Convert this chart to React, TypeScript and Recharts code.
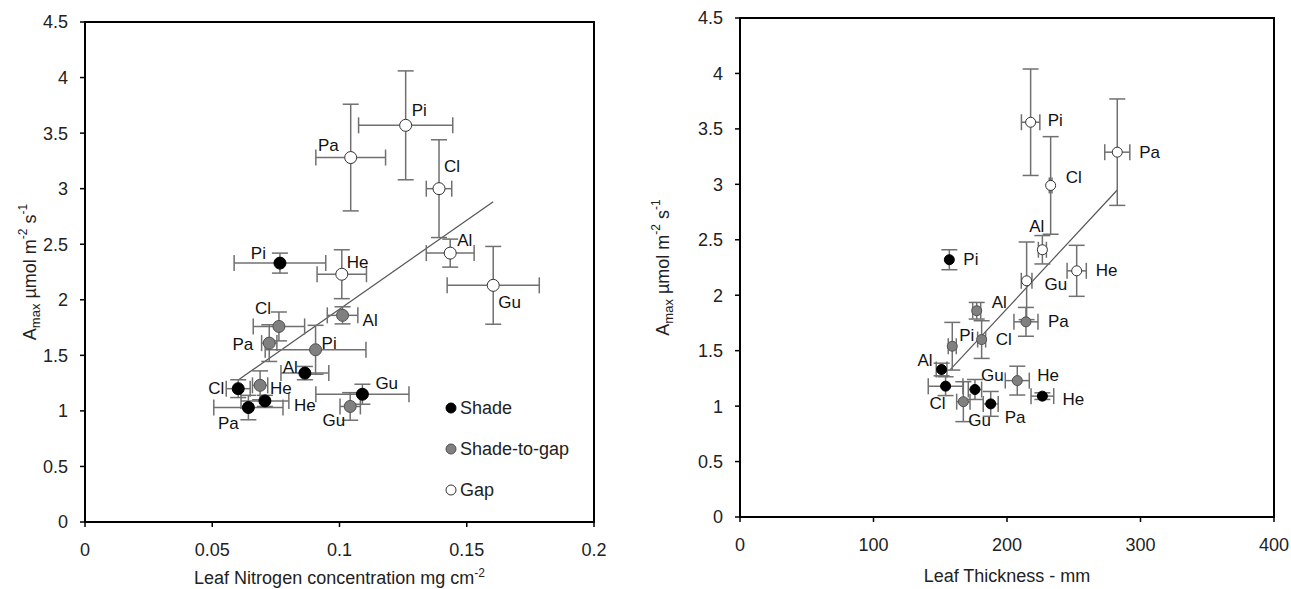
import {
  ScatterChart,
  Scatter,
  XAxis,
  YAxis,
  ErrorBar,
  ReferenceLine,
  ReferenceArea,
  Legend,
  Label,
} from "recharts";

// species order used by every series
const species = ["Pi", "Cl", "Al", "He", "Pa", "Gu"];

// left panel: leaf nitrogen (mg cm-2) vs Amax
const nShadeX = [0.0766, 0.0602, 0.0864, 0.0707, 0.0642, 0.109];
const nShadeY = [2.33, 1.2, 1.34, 1.09, 1.03, 1.15];
const nShadeXErr = [0.018, 0.0047, 0.0094, 0.0094, 0.0136, 0.0183];
const nShadeYErr = [0.09, 0.08, 0.06, 0.05, 0.11, 0.09];

const nMidX = [0.0906, 0.0762, 0.1012, 0.0688, 0.0724, 0.1042];
const nMidY = [1.55, 1.76, 1.86, 1.23, 1.61, 1.04];
const nMidXErr = [0.0198, 0.0101, 0.006, 0.003, 0.003, 0.004];
const nMidYErr = [0.22, 0.13, 0.077, 0.13, 0.165, 0.124];

const nGapX = [0.126, 0.1391, 0.1435, 0.1009, 0.1044, 0.1604];
const nGapY = [3.57, 3.0, 2.42, 2.23, 3.28, 2.13];
const nGapXErr = [0.0185, 0.005, 0.0094, 0.0097, 0.0137, 0.0181];
const nGapYErr = [0.49, 0.44, 0.126, 0.22, 0.48, 0.35];

const nFitX = [0.0602, 0.1604];
const nFitY = [1.278, 2.883];

// right panel: leaf thickness vs Amax
const tShadeX = [156.8, 154, 151, 226.5, 187.8, 176];
const tShadeY = [2.32, 1.18, 1.33, 1.09, 1.02, 1.15];
const tShadeXErr = [0, 13, 4, 8.5, 5.6, 5];
const tShadeYErr = [0.09, 0.085, 0.057, 0.03, 0.112, 0.09];

const tMidX = [159, 181, 177.3, 207.7, 214.2, 167.3];
const tMidY = [1.54, 1.6, 1.86, 1.23, 1.76, 1.04];
const tMidXErr = [3, 3, 3, 9, 9, 5];
const tMidYErr = [0.215, 0.17, 0.075, 0.13, 0.13, 0.18];

const tGapX = [217.7, 232.7, 226.5, 252.2, 282.6, 214.7];
const tGapY = [3.56, 2.99, 2.41, 2.22, 3.29, 2.13];
const tGapXErr = [6.9, 1, 3, 7.2, 9.4, 4];
const tGapYErr = [0.48, 0.44, 0.128, 0.23, 0.48, 0.35];

const tFitX = [157.3, 282.6];
const tFitY = [1.326, 2.949];

const nTicks = [0, 0.05, 0.1, 0.15, 0.2];
const tTicks = [0, 100, 200, 300, 400];
const yTicks = [0, 0.5, 1, 1.5, 2, 2.5, 3, 3.5, 4, 4.5];

const groupNames = ["Shade", "Shade-to-gap", "Gap"];

const rows = (xs: number[], ys: number[], exs: number[], eys: number[]) =>
  species.map((sp, i) => ({ sp, x: xs[i], y: ys[i], ex: exs[i], ey: eys[i] }));

// where each species label sits around its dot: [dx, dy, anchor]
type Spot = [number, number, string];
const nSpots: Record<string, Record<string, Spot>> = {
  Shade: { Pi: [-14, -10, "end"], Cl: [-14, 0, "end"], Al: [-7, -6, "end"], He: [29, 5, "start"], Pa: [-20, 16, "middle"], Gu: [13, -11, "start"] },
  "Shade-to-gap": { Pi: [6, -6, "start"], Cl: [-16, -18, "middle"], Al: [20, 5, "start"], He: [10, 3, "start"], Pa: [-16, 1, "end"], Gu: [-5, 14, "end"] },
  Gap: { Pi: [6, -15, "start"], Cl: [5, -22, "start"], Al: [7, -13, "start"], He: [5, -12, "start"], Pa: [-12, -12, "end"], Gu: [5, 17, "start"] },
};
const tSpots: Record<string, Record<string, Spot>> = {
  Shade: { Pi: [14, 0, "start"], Cl: [0, 17, "end"], Al: [-9, -9, "end"], He: [20, 3, "start"], Pa: [14, 14, "start"], Gu: [6, -14, "start"] },
  "Shade-to-gap": { Pi: [7, -11, "start"], Cl: [14, 0, "start"], Al: [15, -8, "start"], He: [20, -5, "start"], Pa: [22, 0, "start"], Gu: [5, 19, "start"] },
  Gap: { Pi: [17, -2, "start"], Cl: [15, -8, "start"], Al: [2, -23, "end"], He: [19, 0, "start"], Pa: [22, 0, "start"], Gu: [18, 4, "start"] },
};

const dotStyle: Record<string, { fill: string; stroke: string }> = {
  Shade: { fill: "#000", stroke: "#000" },
  "Shade-to-gap": { fill: "#808080", stroke: "#505050" },
  Gap: { fill: "#fff", stroke: "#333" },
};

const FONT = "'Liberation Sans', Arial, sans-serif";
const barColor = "#707070";

function makeDot(group: string, spots: Record<string, Record<string, Spot>>, r: number) {
  return (props: any) => {
    const { cx, cy, payload } = props;
    const st = dotStyle[group];
    const s = spots[group][payload.sp] || [8, 0, "start"];
    return (
      <g>
        <circle cx={cx} cy={cy} r={r} fill={st.fill} stroke={st.stroke} strokeWidth={1} />
        <text
          x={cx + s[0]}
          y={cy + s[1]}
          textAnchor={s[2] as any}
          dominantBaseline="central"
          fontSize={17}
          fontFamily={FONT}
          fill="#111"
        >
          {payload.sp}
        </text>
      </g>
    );
  };
}

function YTitle(props: any) {
  const { viewBox, cx } = props;
  const cy = viewBox.y + viewBox.height / 2;
  return (
    <text
      x={cx}
      y={cy}
      transform={`rotate(-90, ${cx}, ${cy})`}
      textAnchor="middle"
      dominantBaseline="central"
      fontSize={18}
      fontFamily={FONT}
      fill="#222"
    >
      A<tspan fontSize={13} dy={5}>max</tspan>
      <tspan dy={-5}> µmol m</tspan>
      <tspan fontSize={12} dy={-7}>-2</tspan>
      <tspan dy={7}> s</tspan>
      <tspan fontSize={12} dy={-7}>-1</tspan>
    </text>
  );
}

function XTitle(props: any) {
  const { viewBox, text, sup, down } = props;
  return (
    <text
      x={viewBox.x + viewBox.width / 2}
      y={viewBox.y + down}
      textAnchor="middle"
      fontSize={18}
      fontFamily={FONT}
      fill="#222"
    >
      {text}
      {sup ? <tspan fontSize={12} dy={-7}>{sup}</tspan> : null}
    </text>
  );
}

function LegendBox() {
  const ys = [14, 55, 96];
  return (
    <svg width={170} height={112}>
      {groupNames.map((g, i) => (
        <g key={g}>
          <circle cx={11} cy={ys[i]} r={5} fill={dotStyle[g].fill} stroke={dotStyle[g].stroke} />
          <text x={20} y={ys[i]} dominantBaseline="central" fontSize={18} fontFamily={FONT} fill="#222">
            {g}
          </text>
        </g>
      ))}
    </svg>
  );
}

const axisLine = { stroke: "#000", strokeWidth: 2 };
const tickStyle = { fill: "#222", fontSize: 18, fontFamily: FONT };

function Panel(props: {
  width: number;
  margin: any;
  yWidth: number;
  xHeight: number;
  xDomain: number[];
  xTicks: number[];
  series: { name: string; data: any[] }[];
  fitX: number[];
  fitY: number[];
  spots: Record<string, Record<string, Spot>>;
  r: number;
  xTitle: string;
  xSup?: string;
  xTitleDown: number;
  yTitleX: number;
  legend?: boolean;
}) {
  const p = props;
  return (
    <ScatterChart width={p.width} height={589} margin={p.margin}>
      <XAxis
        type="number"
        dataKey="x"
        domain={p.xDomain}
        ticks={p.xTicks}
        allowDataOverflow
        height={p.xHeight}
        axisLine={axisLine}
        tickLine={{ stroke: "#000", strokeWidth: 1.5 }}
        tickSize={5}
        tickMargin={16}
        tick={tickStyle}
      >
        <Label content={(lp: any) => <XTitle {...lp} text={p.xTitle} sup={p.xSup} down={p.xTitleDown} />} />
      </XAxis>
      <YAxis
        type="number"
        dataKey="y"
        domain={[0, 4.5]}
        ticks={yTicks}
        allowDataOverflow
        width={p.yWidth}
        axisLine={axisLine}
        tickLine={{ stroke: "#000", strokeWidth: 1.5 }}
        tickSize={5}
        tickMargin={12}
        tick={tickStyle}
      >
        <Label content={(lp: any) => <YTitle {...lp} cx={p.yTitleX} />} />
      </YAxis>
      <ReferenceArea
        x1={p.xDomain[0]}
        x2={p.xDomain[1]}
        y1={0}
        y2={4.5}
        fill="none"
        fillOpacity={0}
        stroke="#000"
        strokeWidth={2}
      />
      <ReferenceLine
        segment={[
          { x: p.fitX[0], y: p.fitY[0] },
          { x: p.fitX[1], y: p.fitY[1] },
        ]}
        stroke="#555"
        strokeWidth={1.2}
      />
      {p.series.map((s) => (
        <Scatter
          key={s.name}
          name={s.name}
          data={s.data}
          fill={dotStyle[s.name].fill}
          shape={makeDot(s.name, p.spots, p.r)}
          isAnimationActive={false}
        >
          <ErrorBar dataKey="ex" direction="x" width={8} stroke={barColor} strokeWidth={1.5} />
          <ErrorBar dataKey="ey" direction="y" width={8} stroke={barColor} strokeWidth={1.5} />
        </Scatter>
      ))}
      {p.legend ? (
        <Legend
          layout="vertical"
          align="center"
          verticalAlign="middle"
          wrapperStyle={{ left: 440, top: 394, width: 170, height: 112 }}
          content={() => <LegendBox />}
        />
      ) : null}
    </ScatterChart>
  );
}

export default function App() {
  const left = [
    { name: "Shade", data: rows(nShadeX, nShadeY, nShadeXErr, nShadeYErr) },
    { name: "Shade-to-gap", data: rows(nMidX, nMidY, nMidXErr, nMidYErr) },
    { name: "Gap", data: rows(nGapX, nGapY, nGapXErr, nGapYErr) },
  ];
  const right = [
    { name: "Shade", data: rows(tShadeX, tShadeY, tShadeXErr, tShadeYErr) },
    { name: "Shade-to-gap", data: rows(tMidX, tMidY, tMidXErr, tMidYErr) },
    { name: "Gap", data: rows(tGapX, tGapY, tGapXErr, tGapYErr) },
  ];
  return (
    <div
      style={{
        position: "absolute",
        left: 0,
        top: 0,
        width: 1291,
        height: 589,
        background: "#fff",
        fontFamily: FONT,
      }}
    >
      <div style={{ position: "absolute", left: 0, top: 0 }}>
        <Panel
          width={620}
          margin={{ top: 22, right: 26, bottom: 0, left: 0 }}
          yWidth={85}
          xHeight={67}
          xDomain={[0, 0.2]}
          xTicks={nTicks}
          series={left}
          fitX={nFitX}
          fitY={nFitY}
          spots={nSpots}
          r={6}
          xTitle="Leaf Nitrogen concentration mg cm"
          xSup="-2"
          xTitleDown={62}
          yTitleX={30}
          legend
        />
      </div>
      <div style={{ position: "absolute", left: 640, top: 0 }}>
        <Panel
          width={651}
          margin={{ top: 18, right: 17, bottom: 0, left: 0 }}
          yWidth={100}
          xHeight={72}
          xDomain={[0, 400]}
          xTicks={tTicks}
          series={right}
          fitX={tFitX}
          fitY={tFitY}
          spots={tSpots}
          r={5}
          xTitle="Leaf Thickness - mm"
          xTitleDown={65}
          yTitleX={23}
        />
      </div>
    </div>
  );
}
